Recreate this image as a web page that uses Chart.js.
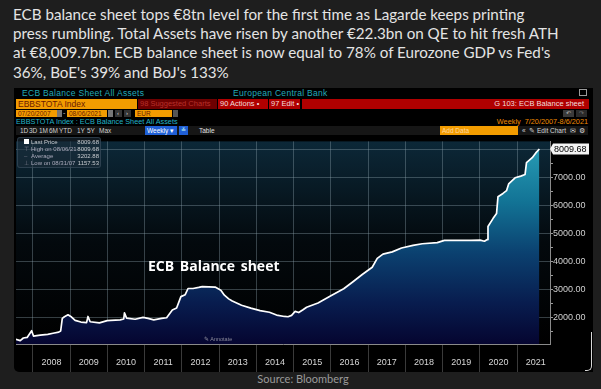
<!DOCTYPE html>
<html><head><meta charset="utf-8">
<script src="https://cdn.jsdelivr.net/npm/chart.js@4.4.0/dist/chart.umd.min.js"></script>
<style>
html,body{margin:0;padding:0;background:#1e1e1e;width:601px;height:389px;overflow:hidden;position:relative;}
#title{position:absolute;left:13px;top:5px;font:15.2px Lato,'Open Sans',sans-serif;line-height:19.2px;color:#e4e4e4;white-space:nowrap;}
#panel{position:absolute;left:14px;top:88px;width:579px;height:284px;background:#000;border-bottom-left-radius:5px;}
.t{position:absolute;white-space:nowrap;font-family:'Liberation Sans',Arial,sans-serif;}
.btn{position:absolute;white-space:nowrap;font-family:'Liberation Sans',Arial,sans-serif;top:127px;font-size:6.5px;line-height:8px;color:#d0d0d0;}
.box{position:absolute;white-space:nowrap;font-family:'Liberation Sans',Arial,sans-serif;box-sizing:border-box;padding-left:2px;overflow:hidden;}
#c{position:absolute;left:14px;top:136px;}
#legend{position:absolute;left:17px;top:137px;width:84px;height:31px;background:rgba(30,45,58,0.55);border:1px solid rgba(70,90,105,0.5);border-radius:3px;box-sizing:border-box;}
.lg{position:absolute;font:6px 'Liberation Sans',Arial,sans-serif;color:#c8ccd0;white-space:nowrap;line-height:7px;}
#annot{position:absolute;left:148px;top:258px;font:bold 14px 'Open Sans',sans-serif;color:#fff;line-height:15px;word-spacing:2px;white-space:nowrap;}
#source{position:absolute;left:0;width:606px;top:372px;text-align:center;font:11px Lato,'Open Sans',sans-serif;color:#9a9a9a;line-height:13px;}
#edge{position:absolute;left:585px;top:332px;width:6px;height:38px;border-right:1px solid #d8d8d8;border-bottom:1px solid #d8d8d8;border-bottom-right-radius:5px;}
</style></head><body>
<div id="title">ECB balance sheet tops €8tn level for the first time as Lagarde keeps printing<br>press rumbling. Total Assets have risen by another €22.3bn on QE to hit fresh ATH<br>at €8,009.7bn. ECB balance sheet is now equal to 78% of Eurozone GDP vs Fed's<br>36%, BoE's 39% and BoJ's 133%</div>
<div id="panel"></div>
<!-- header row 1 -->
<div class="t" style="left:22px;top:89px;font-size:8.5px;line-height:9px;color:#22abba;letter-spacing:0.3px;">ECB Balance Sheet All Assets</div>
<div class="t" style="left:233px;top:89px;font-size:8.5px;line-height:9px;color:#22abba;letter-spacing:0.3px;">European Central Bank</div>
<div class="t" style="left:579px;top:89px;width:8px;height:7px;border:1px solid #9a9a9a;box-sizing:border-box;"></div>
<!-- row 2 -->
<div class="box" style="left:16px;top:99px;width:121px;height:10px;background:#f29c00;color:#6a1a00;font-size:8.5px;line-height:10px;">EBBSTOTA Index</div>
<div class="box" style="left:138px;top:99px;width:79px;height:10px;background:#6e0000;color:#b8302a;font-size:7.5px;line-height:10px;">98 Suggested Charts</div>
<div class="box" style="left:218px;top:99px;width:50px;height:10px;background:#b00000;color:#f2dede;font-size:7.5px;line-height:10px;">90 Actions •</div>
<div class="box" style="left:269px;top:99px;width:31px;height:10px;background:#b00000;color:#f2dede;font-size:7.5px;line-height:10px;">97 Edit •</div>
<div class="box" style="left:302px;top:99px;width:287px;height:10px;background:#b00000;color:#f2dede;font-size:7.5px;line-height:10px;text-align:right;padding-right:5px;">G 103: ECB Balance sheet</div>
<!-- row 3 -->
<div class="box" style="left:16px;top:110px;width:41px;height:7px;background:#f29c00;color:#6a1a00;font-size:6.5px;line-height:7px;">07/20/2007</div>
<div class="box" style="left:57px;top:110px;width:5px;height:7px;background:#777;"></div>
<div class="t" style="left:63px;top:109px;font-size:7px;line-height:8px;color:#ccc;">-</div>
<div class="box" style="left:67px;top:110px;width:40px;height:7px;background:#f29c00;color:#6a1a00;font-size:6.5px;line-height:7px;">08/06/2021</div>
<div class="box" style="left:108px;top:110px;width:5px;height:7px;background:#777;"></div>
<div class="box" style="left:115px;top:110px;width:7px;height:7px;background:#333;color:#ddd;font-size:6px;line-height:7px;">‹</div>
<div class="box" style="left:124px;top:110px;width:7px;height:7px;background:#333;color:#ddd;font-size:6px;line-height:7px;">›</div>
<div class="box" style="left:135px;top:110px;width:37px;height:7px;background:#f29c00;color:#6a1a00;font-size:6.5px;line-height:7px;">EUR</div>
<div class="box" style="left:173px;top:110px;width:5px;height:7px;background:#555;"></div>
<div class="box" style="left:563px;top:110px;width:11px;height:7px;background:#3a3a3a;color:#bbb;font-size:6px;line-height:7px;padding-left:3px;">↶</div>
<div class="box" style="left:576px;top:110px;width:11px;height:7px;background:#2a2a2a;color:#777;font-size:6px;line-height:7px;padding-left:3px;">↷</div>
<!-- row 4 -->
<div class="t" style="left:16px;top:118px;font-size:7.3px;line-height:8px;color:#22b3c7;">EBBSTOTA Index : ECB Balance Sheet All Assets</div>
<div class="t" style="right:13px;top:118px;font-size:7.3px;line-height:8px;color:#f08a00;">Weekly&nbsp;&nbsp;7/20/2007-8/6/2021</div>
<!-- row 5 -->
<div class="box" style="left:16px;top:126px;width:572px;height:9px;background:#161616;"></div>
<div class="btn" style="left:20px;">1D</div>
<div class="btn" style="left:29px;">3D</div>
<div class="btn" style="left:39px;">1M</div>
<div class="btn" style="left:49px;">6M</div>
<div class="btn" style="left:59px;">YTD</div>
<div class="btn" style="left:77px;">1Y</div>
<div class="btn" style="left:87px;">5Y</div>
<div class="btn" style="left:99px;">Max</div>
<div class="box" style="left:145px;top:126px;width:32px;height:9px;background:#1f5fd6;color:#fff;font-size:6.5px;line-height:9px;">Weekly ▾</div>
<div class="box" style="left:179px;top:126px;width:9px;height:9px;background:#1f5fd6;color:#cfe;font-size:6px;line-height:9px;">≚</div>
<div class="btn" style="left:199px;color:#e0e0e0;">Table</div>
<div class="box" style="left:440px;top:126px;width:78px;height:9px;background:#f29c00;color:#ffd9a0;font-size:6.5px;line-height:9px;">Add Data</div>
<div class="btn" style="left:522px;color:#d8d8d8;">«&nbsp;&nbsp;✎ Edit Chart&nbsp;&nbsp;✉&nbsp;&nbsp;⚙</div>

<canvas id="c" width="580" height="236"></canvas>

<div id="legend"></div>
<div class="lg" style="left:24px;top:139px;width:5px;height:5px;background:#fff;"></div>
<div class="lg" style="left:31px;top:139px;">Last Price</div>
<div class="lg" style="left:31px;top:146px;color:#aab;">High on 08/06/21</div>
<div class="lg" style="left:31px;top:153px;color:#aab;">Average</div>
<div class="lg" style="left:31px;top:160px;color:#aab;">Low on 08/31/07</div>
<div class="lg" style="left:24px;top:146px;color:#778;">⊤</div>
<div class="lg" style="left:24px;top:153px;color:#778;">–</div>
<div class="lg" style="left:24px;top:160px;color:#778;">⊥</div>
<div class="lg" style="right:502px;top:139px;">8009.68</div>
<div class="lg" style="right:502px;top:146px;">8009.68</div>
<div class="lg" style="right:502px;top:153px;">3202.88</div>
<div class="lg" style="right:502px;top:160px;">1157.53</div>

<div id="annot">ECB Balance sheet</div>
<div class="t" style="left:204px;top:336px;font-size:5.5px;line-height:7px;color:#8a8a9a;">✎ Annotate</div>
<div id="edge"></div>
<div id="source">Source: Bloomberg</div>

<script>
// ---- data (weekly ECB total assets, EUR bn) ----
const dates = [
 '2007-07-20','2007-08-31','2007-10-01','2007-11-07','2007-12-21','2008-01-08','2008-03-14','2008-05-27',
 '2008-07-18','2008-09-12','2008-10-01','2008-10-17','2008-11-07','2008-12-12','2009-01-16','2009-02-20',
 '2009-04-17','2009-06-12','2009-06-26','2009-07-17','2009-10-16','2009-12-31','2010-02-05','2010-05-07',
 '2010-06-11','2010-06-18','2010-07-09','2010-10-01','2010-12-17','2011-02-04','2011-04-01','2011-06-17',
 '2011-08-05','2011-09-30','2011-11-11','2011-12-23','2012-02-03','2012-03-02','2012-04-20','2012-06-15',
 '2012-07-20','2012-11-23','2013-01-18','2013-02-22','2013-04-05','2013-05-10','2013-08-09','2013-11-08',
 '2014-02-07','2014-05-09','2014-07-18','2014-10-03','2014-11-07','2014-12-12','2015-01-16','2015-02-20',
 '2015-04-03','2015-05-08','2015-08-28','2016-01-01','2016-05-06','2016-08-05','2016-11-04','2017-02-10',
 '2017-03-31','2017-05-26','2017-08-25','2017-11-24','2018-03-16','2018-06-15','2018-11-09','2019-01-18',
 '2019-05-24','2019-10-04','2020-01-03','2020-02-14','2020-03-13','2020-03-20','2020-05-08','2020-06-12',
 '2020-06-26','2020-08-14','2020-09-18','2020-10-09','2020-12-11','2021-02-05','2021-03-19','2021-04-02',
 '2021-05-28','2021-07-02','2021-08-06'
];
const values = [
 1200,1158,1250,1270,1510,1320,1350,1380,
 1420,1460,1500,1950,2010,2080,2000,1880,
 1820,1800,2020,1830,1790,1870,1880,1900,
 1930,2150,1960,1920,1990,1950,1900,1950,
 1975,2250,2320,2730,2800,3020,3020,3060,
 3090,3070,2960,2780,2650,2570,2420,2320,
 2230,2170,2070,2020,2010,2060,2200,2160,
 2260,2350,2500,2760,3010,3260,3520,3780,
 4100,4250,4330,4470,4560,4620,4660,4740,
 4740,4740,4750,4710,4770,5240,5520,5700,
 6300,6420,6520,6760,6980,7040,7100,7520,
 7700,7870,8009.68
];
const years = [2008,2009,2010,2011,2012,2013,2014,2015,2016,2017,2018,2019,2020,2021];
const yTickValues = [1500,2000,2500,3000,3500,4000,4500,5000,5500,6000,6500,7000,7500,8000];
const yLabelValues = [2000,3000,4000,5000,6000,7000];

function toYear(s){
  const p = s.split('-').map(Number);
  const st = Date.UTC(p[0],0,1), en = Date.UTC(p[0]+1,0,1);
  return p[0] + (Date.UTC(p[0],p[1]-1,p[2]) - st)/(en - st);
}
const points = dates.map((d,i)=>({x:toYear(d), y:values[i]}));

Chart.defaults.font.family = "'Liberation Sans', Arial, sans-serif";

const plotBg = {
  id:'plotBg',
  beforeDraw(c){
    const {ctx, chartArea:a} = c;
    const g = ctx.createLinearGradient(0,a.top,0,a.bottom);
    g.addColorStop(0,'#0c2838');
    g.addColorStop(0.5,'#03090d');
    g.addColorStop(1,'#000000');
    ctx.save(); ctx.fillStyle = g;
    ctx.fillRect(a.left,a.top,a.right-a.left,a.bottom-a.top);
    ctx.restore();
  }
};
const lastBox = {
  id:'lastBox',
  afterDraw(c){
    const ctx = c.ctx, a = c.chartArea, ys = c.scales.y;
    const v = values[values.length-1];
    const y = ys.getPixelForValue(v);
    const x0 = a.right + 3;
    ctx.save();
    ctx.fillStyle = '#f4f4f4';
    ctx.beginPath();
    ctx.moveTo(x0-3,y); ctx.lineTo(x0,y-5.5); ctx.lineTo(x0+36,y-5.5);
    ctx.lineTo(x0+36,y+5.5); ctx.lineTo(x0,y+5.5); ctx.closePath(); ctx.fill();
    ctx.fillStyle = '#000'; ctx.font = "9px 'Liberation Sans', Arial";
    ctx.textBaseline = 'middle';
    ctx.fillText(v.toFixed(2), x0+1, y+0.5);
    ctx.restore();
  }
};

new Chart(document.getElementById('c'), {
  type:'line',
  data:{datasets:[{
    data:points, borderColor:'#ffffff', borderWidth:1.7, pointRadius:0, tension:0,
    borderJoinStyle:'round', fill:'start',
    backgroundColor:(ctx)=>{
      const a = ctx.chart.chartArea;
      if(!a) return 'rgba(0,0,0,0)';
      const g = ctx.chart.ctx.createLinearGradient(0,a.top,0,a.bottom);
      g.addColorStop(0,'#2aa0b8');
      g.addColorStop(0.3,'#127395');
      g.addColorStop(0.55,'#0b4170');
      g.addColorStop(0.8,'#081c4e');
      g.addColorStop(1,'#050530');
      return g;
    }
  }]},
  options:{
    responsive:false, animation:false, devicePixelRatio:1,
    layout:{padding:{left:2,top:0,right:0,bottom:0}},
    plugins:{legend:{display:false}, tooltip:{enabled:false}},
    scales:{
      x:{
        type:'linear', position:'bottom', min:2007.55, max:2021.88,
        afterBuildTicks(s){ const t=[]; years.forEach(y=>{t.push({value:y}); t.push({value:y+0.5});}); s.ticks=t; },
        afterFit(s){ s.height = 28; },
        grid:{
          color:c=>Number.isInteger(c.tick.value)?'rgba(140,160,172,0.38)':'rgba(0,0,0,0)',
          borderDash:[1,2], lineWidth:1,
          tickColor:c=>Number.isInteger(c.tick.value)?'#3a3a3a':'rgba(0,0,0,0)',
          tickLength:28, tickBorderDash:[], tickWidth:1
        },
        border:{display:true, color:'#8a8a8a', width:1},
        ticks:{autoSkip:false, maxRotation:0, padding:-15, color:'#d6d6d6', font:{size:9},
          callback:v=>Number.isInteger(v)?'':String(Math.floor(v))}
      },
      y:{
        position:'right', min:1035, max:8282,
        afterBuildTicks(s){ s.ticks = yTickValues.map(v=>({value:v})); },
        afterFit(s){ s.width = 44; },
        grid:{
          color:c=>(c.tick && yLabelValues.concat([8000]).includes(c.tick.value))?'rgba(140,160,172,0.38)':'rgba(0,0,0,0)',
          borderDash:[1,2], lineWidth:1,
          tickColor:'#9a9a9a', tickLength:3, tickBorderDash:[], tickWidth:1
        },
        border:{display:true, color:'#8a8a8a', width:1},
        ticks:{padding:0, color:'#d0d0d0', font:{size:9},
          callback:v=>yLabelValues.includes(v)?v.toFixed(2):''}
      }
    }
  },
  plugins:[plotBg, lastBox]
});
</script>
</body></html>
